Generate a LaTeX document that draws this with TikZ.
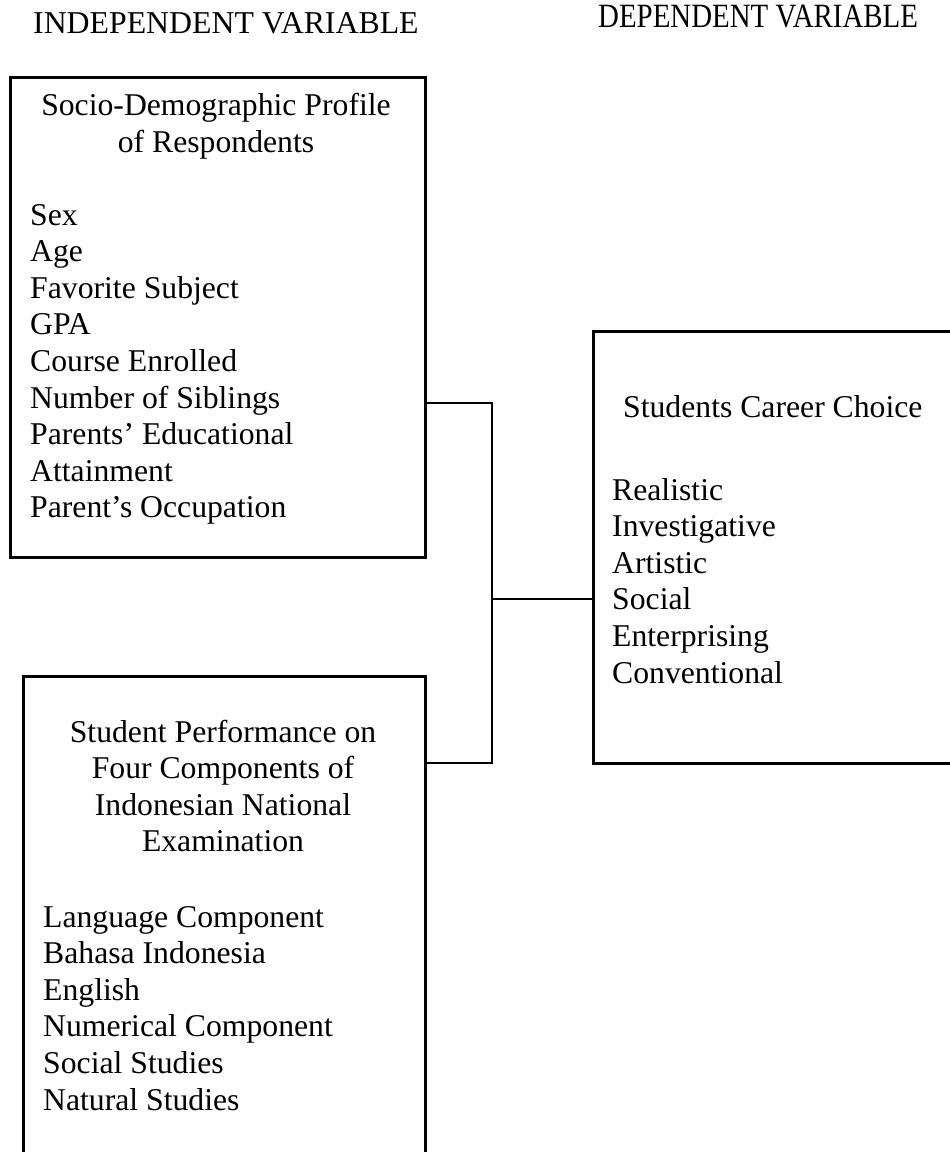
\documentclass[tikz,border=0pt]{standalone}
\usepackage{fontspec}
\newfontfamily\bodyfont{Liberation Serif}
\newfontfamily\indepfont{Liberation Serif}
\newfontfamily\depfont{Liberation Serif}[FakeStretch=0.85]
\begin{document}
\begin{tikzpicture}[x=1pt,y=-1pt,
  frame/.style={draw=black,line width=2.6pt,anchor=north west,inner sep=0pt},
  link/.style={draw=black,line width=2.6pt},
  txt/.style={inner sep=0pt,font=\bodyfont\fontsize{31.7}{36.6}\selectfont},
  item/.style={txt,anchor=base west},
  ttl/.style={txt,anchor=base}]
\useasboundingbox (0,0) rectangle (950,1152);
% headers
\node[inner sep=0pt,anchor=base west,font=\indepfont\fontsize{31.8}{34}\selectfont] (h1) at (33,33) {INDEPENDENT VARIABLE};
\node[inner sep=0pt,anchor=base west,font=\depfont\fontsize{34}{36}\selectfont] (h2) at (598,27) {DEPENDENT VARIABLE};
% boxes
\node[frame,minimum width=415pt,minimum height=480pt] (b1) at (9,76) {};
\node[frame,minimum width=402pt,minimum height=500pt] (b2) at (22,675) {};
\node[frame,minimum width=380pt,minimum height=432pt] (b3) at (592,330) {};
% box 1 text
\node[ttl] (t1a) at (216,115) {Socio-Demographic Profile};
\node[ttl] (t1b) at (216,152) {of Respondents};
\foreach \s [count=\i from 0] in {Sex,Age,Favorite Subject,GPA,Course Enrolled,Number of Siblings,Parents’ Educational,Attainment,Parent’s Occupation}
  \node[item] (p\i) at (30,225+36.6*\i) {\s};
% box 2 text
\node[ttl] (t2a) at (223,742) {Student Performance on};
\node[ttl] (t2b) at (223,778.6) {Four Components of};
\node[ttl] (t2c) at (223,815.2) {Indonesian National};
\node[ttl] (t2d) at (223,851.8) {Examination};
\foreach \s [count=\i from 0] in {Language Component,Bahasa Indonesia,English,Numerical Component,Social Studies,Natural Studies}
  \node[item] (q\i) at (43,927+36.6*\i) {\s};
% box 3 text
\node[item] (t3) at (623,417) {Students Career Choice};
\foreach \s [count=\i from 0] in {Realistic,Investigative,Artistic,Social,Enterprising,Conventional}
  \node[item] (r\i) at (612,500+36.6*\i) {\s};
% connectors
\coordinate (j1) at (492,403);
\coordinate (j2) at (492,763);
\coordinate (j3) at (492,599);
\draw[link] (b1.east |- j1) -- (j1) -- (j2) -- (b2.east |- j2);
\draw[link] (j3) -- (b3.west |- j3);
\end{tikzpicture}
\end{document}
